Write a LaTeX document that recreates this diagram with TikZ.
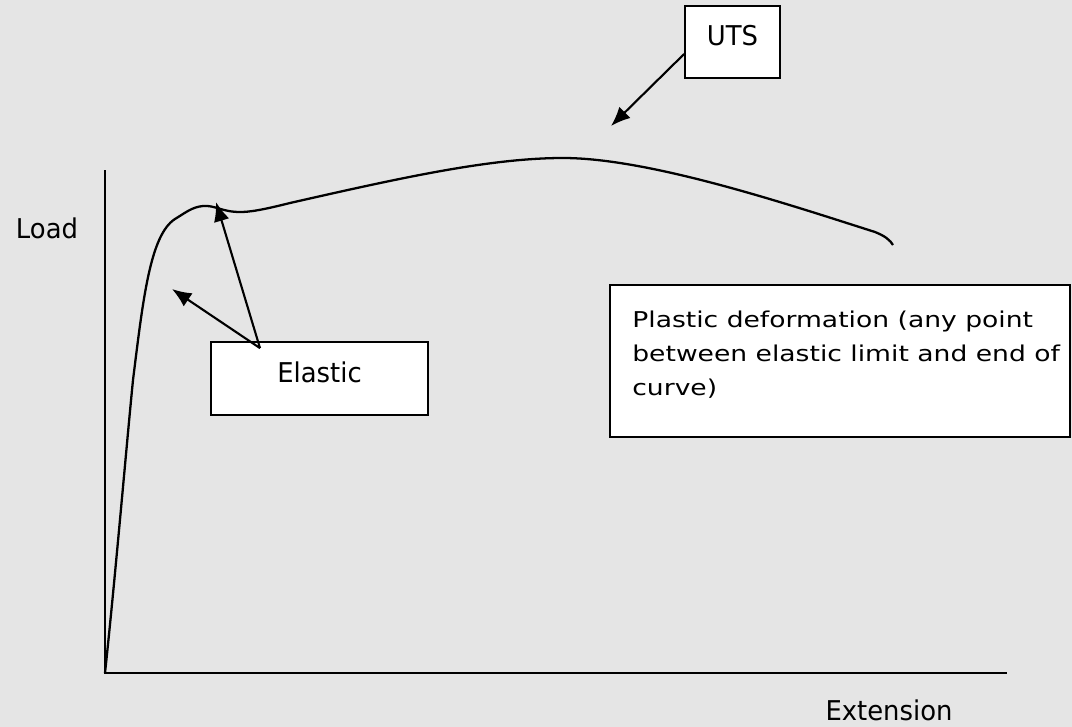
\documentclass[tikz,border=0pt]{standalone}
\usepackage{fontspec}
\setmainfont{DejaVu Sans}[FakeStretch=0.95]
\newfontfamily\widefont{DejaVu Sans}[FakeStretch=1.22]
\usetikzlibrary{arrows.meta}
\definecolor{bggray}{RGB}{229,229,229}
\tikzset{
  labelbox/.style={draw,fill=white,line width=1pt,inner sep=0pt,
                   text height=11pt,text depth=7pt},
  axislabel/.style={inner sep=0pt},
  pointer/.style={->,line width=1.2pt},
}

\begin{document}
\begin{tikzpicture}[x=0.02cm,y=-0.02cm,>={Latex[length=11pt,width=9pt]},
                    font=\fontsize{15.5}{18}\selectfont]
\fill [bggray] (0,0) rectangle (1072,727);

\coordinate (origin) at ( 105,673);
\coordinate (ytop)   at ( 105,170);
\coordinate (xend)   at (1007,673);
\draw [line width=1.3pt] (ytop) -- (origin) -- (xend);

\node [axislabel]                                  (load)      at ( 47,228) {Load};
\node [axislabel]                                  (extension) at (889,710) {Extension};

% load-extension curve
\draw [line width=1.3pt]
  (origin) .. controls (115,580) and (127,440) .. (133,380)
           .. controls (143,300) and (150,235) .. (175,219)
           .. controls (185,213) and (192,207) .. (203,206)
           .. controls (215,205) and (222,212) .. (240,212)
           .. controls (250,212) and (262,210) .. (290,203)
           .. controls (400,178) and (490,158) .. (563,158)
           .. controls (650,158) and (790,205) .. (875,232)
           .. controls (885,236) and (890,240) .. (893,245);

\node [labelbox,minimum width=1.9cm,minimum height=1.44cm]  (uts)     at (732.5, 42)  {UTS};
\node [labelbox,minimum width=4.34cm,minimum height=1.46cm] (elastic) at (319.5,378.5) {Elastic};
\node [labelbox,minimum width=9.2cm,minimum height=3.04cm]  (plastic) at (840,361) {};
\node [anchor=north west,inner sep=0pt,align=left,
       font=\widefont\fontsize{12.4}{19.3}\selectfont]      (plastictext) at (632,311)
  {Plastic deformation (any point\\ between elastic limit and end of\\ curve)};

\coordinate (peak)   at (611,126);
\coordinate (yield)  at (216,202);
\coordinate (linear) at (172,289);

\draw [pointer] ([yshift=-0.24cm]uts.west) -- (peak);
\draw [pointer] ([xshift=-1.19cm,yshift=-0.14cm]elastic.north) -- (yield);
\draw [pointer] ([xshift=-1.19cm,yshift=-0.14cm]elastic.north) -- (linear);
\end{tikzpicture}
\end{document}
